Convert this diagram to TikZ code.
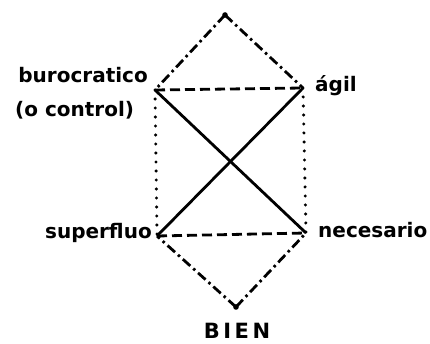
\documentclass[tikz,border=0pt]{standalone}
\usepackage{fontspec}
\setmainfont{DejaVu Sans}
\begin{document}
\begin{tikzpicture}[x=1pt,y=1pt,
  ln/.style={line width=2.8pt,black},
  dashdot/.style={ln,dash pattern=on 10pt off 4pt on 2.5pt off 4pt},
  dsh/.style={ln,dash pattern=on 10pt off 5pt},
  dots/.style={ln,line width=3.4pt,line cap=round,dash pattern=on 0pt off 9pt},
  solid line/.style={ln},
  lbl/.style={inner sep=0pt,font=\fontsize{20}{20}\selectfont\bfseries}]
\useasboundingbox (0,0) rectangle (430,344);
\coordinate (T) at (225,329);
\coordinate (B) at (155,254);
\coordinate (A) at (303,256);
\coordinate (S) at (157,108);
\coordinate (N) at (306,111);
\coordinate (Bt) at (236,37);
\fill (T) circle (2.8pt);
\fill (Bt) circle (2.8pt);
\draw[dashdot] (T) -- (B);
\draw[dashdot] (T) -- (A);
\draw[dashdot] (Bt) -- (S);
\draw[dashdot] (Bt) -- (N);
\draw[dsh] (B) -- (A);
\draw[dsh] (S) -- (N);
\draw[dots] (B) -- (S);
\draw[dots] (A) -- (N);
\draw[solid line] (B) -- (N);
\draw[solid line] (A) -- (S);
\node[lbl,anchor=base east] (lb) at (148,261) {burocratico};
\node[lbl,anchor=base west] (lc) at (15,227) {(o control)};
\node[lbl,anchor=base west] (la) at (315,252) {ágil};
\node[lbl,anchor=base east] (ls) at (152,105) {superfluo};
\node[lbl,anchor=base west] (ln2) at (318,106) {necesario};
\node[lbl,anchor=base,font=\fontsize{21}{21}\selectfont\bfseries] (lbien) at (237,5) {B\,I\,E\,N};
\end{tikzpicture}
\end{document}
